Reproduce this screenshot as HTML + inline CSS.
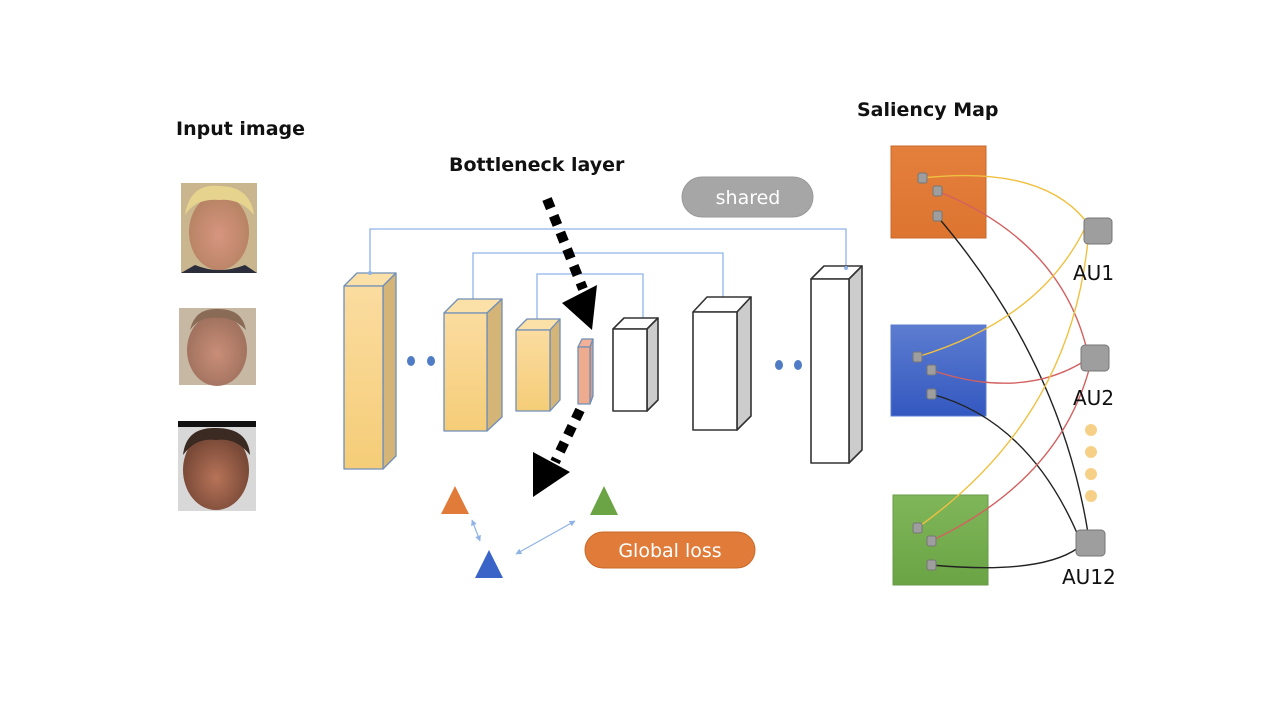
<!DOCTYPE html>
<html><head><meta charset="utf-8"><style>
html,body{margin:0;padding:0;background:#fff;}
svg{display:block;}
text{font-family:"DejaVu Sans","Liberation Sans",sans-serif;}
</style></head><body>
<svg width="1280" height="720" viewBox="0 0 1280 720" xmlns="http://www.w3.org/2000/svg">
<defs>
<linearGradient id="yf" x1="0" y1="0" x2="0" y2="1"><stop offset="0" stop-color="#fbdca0"/><stop offset="1" stop-color="#f5cd78"/></linearGradient>
<linearGradient id="og" x1="0" y1="0" x2="0" y2="1"><stop offset="0" stop-color="#e47f3c"/><stop offset="1" stop-color="#dd7530"/></linearGradient>
<linearGradient id="bg" x1="0" y1="0" x2="0" y2="1"><stop offset="0" stop-color="#5d7dd0"/><stop offset="1" stop-color="#3358c0"/></linearGradient>
<linearGradient id="gg" x1="0" y1="0" x2="0" y2="1"><stop offset="0" stop-color="#7fb65a"/><stop offset="1" stop-color="#6aa444"/></linearGradient>
<radialGradient id="skin1" cx="0.5" cy="0.55" r="0.5"><stop offset="0" stop-color="#d7957f"/><stop offset="1" stop-color="#b98466"/></radialGradient>
<radialGradient id="skin2" cx="0.5" cy="0.55" r="0.5"><stop offset="0" stop-color="#c98e78"/><stop offset="1" stop-color="#a27360"/></radialGradient>
<radialGradient id="skin3" cx="0.5" cy="0.6" r="0.5"><stop offset="0" stop-color="#b77358"/><stop offset="1" stop-color="#7a4a38"/></radialGradient>
<marker id="ah" viewBox="0 0 10 10" refX="9" refY="5" markerWidth="5" markerHeight="5" orient="auto-start-reverse"><path d="M0 0 L10 5 L0 10Z" fill="#8fb3e6"/></marker>
</defs>

<!-- titles -->
<text x="176" y="135" font-size="19" font-weight="bold" fill="#111">Input image</text>
<text x="449" y="171" font-size="19" font-weight="bold" fill="#111">Bottleneck layer</text>
<text x="857" y="116" font-size="19" font-weight="bold" fill="#111">Saliency Map</text>

<!-- faces -->
<rect x="181" y="183" width="76" height="90" fill="#c9b58e"/>
<ellipse cx="219" cy="232" rx="30" ry="38" fill="url(#skin1)"/>
<path d="M185 215 Q190 183 219 186 Q250 186 254 215 Q240 198 219 200 Q196 198 185 215Z" fill="#e6d38e"/>
<path d="M195 265 Q219 275 245 265 L257 273 L181 273Z" fill="#2b2d3a"/>
<rect x="179" y="308" width="77" height="77" fill="#c7b8a3"/>
<ellipse cx="217" cy="350" rx="30" ry="36" fill="url(#skin2)"/>
<path d="M190 330 Q195 308 217 309 Q242 308 246 330 Q232 316 217 318 Q200 316 190 330Z" fill="#8a6b55"/>
<rect x="178" y="421" width="78" height="90" fill="#d8d8d8"/>
<rect x="178" y="421" width="78" height="6" fill="#111"/>
<ellipse cx="216" cy="470" rx="33" ry="40" fill="url(#skin3)"/>
<path d="M183 455 Q186 427 216 428 Q248 428 250 455 Q236 437 216 440 Q196 437 183 455Z" fill="#3a2a22"/>

<!-- skip connections -->
<g stroke="#8fb3e6" stroke-width="1.3" fill="none">
<polyline points="370,273 370,229 846,229 846,268"/>
<polyline points="473,299 473,253 723,253 723,298"/>
<polyline points="537,319 537,274 643,274 643,319"/>
</g>

<!-- encoder boxes -->
<g stroke="#6f8fb8" stroke-width="1.3" stroke-linejoin="round">
<polygon points="344,286 357,273 396,273 383,286" fill="#fbe0a8"/>
<polygon points="383,286 396,273 396,456 383,469" fill="#d4b477"/>
<rect x="344" y="286" width="39" height="183" fill="url(#yf)"/>
<polygon points="444,313 458,299 502,299 487,313" fill="#fbe0a8"/>
<polygon points="487,313 502,299 502,417 487,431" fill="#d4b477"/>
<rect x="444" y="313" width="43" height="118" fill="url(#yf)"/>
<polygon points="516,330 527,319 560,319 550,330" fill="#fbe0a8"/>
<polygon points="550,330 560,319 560,400 550,411" fill="#d4b477"/>
<rect x="516" y="330" width="34" height="81" fill="url(#yf)"/>
<polygon points="578,347 582,339 593,339 590,347" fill="#f2b197"/>
<polygon points="590,347 593,339 593,396 590,404" fill="#d99c84"/>
<rect x="578" y="347" width="12" height="57" fill="#eeab8d"/>
</g>
<!-- decoder boxes -->
<g stroke="#333" stroke-width="1.6" stroke-linejoin="round">
<polygon points="613,329 624,318 658,318 647,329" fill="#fff"/>
<polygon points="647,329 658,318 658,400 647,411" fill="#ccc"/>
<rect x="613" y="329" width="34" height="82" fill="#fff"/>
<polygon points="693,312 707,297 751,297 737,312" fill="#fff"/>
<polygon points="737,312 751,297 751,416 737,430" fill="#ccc"/>
<rect x="693" y="312" width="44" height="118" fill="#fff"/>
<polygon points="811,279 824,266 862,266 849,279" fill="#fff"/>
<polygon points="849,279 862,266 862,450 849,463" fill="#ccc"/>
<rect x="811" y="279" width="38" height="184" fill="#fff"/>
</g>
<g fill="#8fb3e6"><circle cx="370" cy="273" r="2"/><circle cx="846" cy="268" r="2"/></g>

<!-- dots -->
<g fill="#4f7cc4">
<ellipse cx="411" cy="361" rx="4" ry="5"/><ellipse cx="431" cy="361" rx="4" ry="5"/>
<ellipse cx="779" cy="365" rx="4" ry="5"/><ellipse cx="798" cy="365" rx="4" ry="5"/>
</g>

<!-- dashed arrows -->
<g stroke="#000" stroke-width="10" stroke-dasharray="10,8" fill="none">
<line x1="547" y1="199" x2="583" y2="289"/>
<line x1="580" y1="410" x2="555" y2="462"/>
</g>
<polygon points="562,303 597,285 592,330" fill="#000"/>
<polygon points="533,452 570,472 533,497" fill="#000"/>

<!-- shared pill -->
<rect x="682" y="177" width="131" height="40" rx="20" fill="#a6a6a6" stroke="#999"/>
<text x="748" y="204" font-size="19" fill="#fff" text-anchor="middle">shared</text>

<!-- triangles -->
<polygon points="455,486 441,514 469,514" fill="#e07b39"/>
<polygon points="604,486 590,515 618,515" fill="#6aa444"/>
<polygon points="489,550 475,578 503,578" fill="#3a64c8"/>
<g stroke="#8fb3e6" stroke-width="1.2">
<line x1="472" y1="520" x2="480" y2="541" marker-start="url(#ah)" marker-end="url(#ah)"/>
<line x1="516" y1="554" x2="575" y2="521" marker-start="url(#ah)" marker-end="url(#ah)"/>
</g>
<!-- global loss -->
<rect x="585" y="532" width="170" height="36" rx="18" fill="#e07b39" stroke="#c96a2c"/>
<text x="670" y="557" font-size="19" fill="#fff" text-anchor="middle">Global loss</text>

<!-- saliency squares -->
<rect x="891" y="146" width="95" height="92" fill="url(#og)" stroke="#c8692c"/>
<rect x="891" y="325" width="95" height="91" fill="url(#bg)" stroke="#5b7cd0"/>
<rect x="893" y="495" width="95" height="90" fill="url(#gg)" stroke="#6a9a4a"/>

<!-- curves -->
<g fill="none" stroke-width="1.4">
<path d="M922 178 Q1040 165 1085 220" stroke="#f0c040"/>
<path d="M937 191 Q1060 240 1087 350" stroke="#d46060"/>
<path d="M937 216 Q1060 360 1088 533" stroke="#222"/>
<path d="M917 357 Q1040 320 1085 228" stroke="#f0c040"/>
<path d="M931 370 Q1020 400 1083 362" stroke="#d46060"/>
<path d="M931 394 Q1030 420 1080 540" stroke="#222"/>
<path d="M917 528 Q1070 420 1088 240" stroke="#f0c040"/>
<path d="M931 541 Q1060 480 1090 366" stroke="#d46060"/>
<path d="M931 565 Q1040 575 1078 548" stroke="#222"/>
</g>
<g fill="#9e9e9e" stroke="#777" stroke-width="1">
<rect x="918" y="173" width="9" height="10" rx="2"/>
<rect x="933" y="186" width="9" height="10" rx="2"/>
<rect x="933" y="211" width="9" height="10" rx="2"/>
<rect x="913" y="352" width="9" height="10" rx="2"/>
<rect x="927" y="365" width="9" height="10" rx="2"/>
<rect x="927" y="389" width="9" height="10" rx="2"/>
<rect x="913" y="523" width="9" height="10" rx="2"/>
<rect x="927" y="536" width="9" height="10" rx="2"/>
<rect x="927" y="560" width="9" height="10" rx="2"/>
<rect x="1084" y="218" width="28" height="26" rx="4"/>
<rect x="1081" y="345" width="28" height="26" rx="4"/>
<rect x="1076" y="530" width="29" height="26" rx="4"/>
</g>
<g fill="#f7d088">
<circle cx="1091" cy="430" r="6"/><circle cx="1091" cy="452" r="6"/><circle cx="1091" cy="474" r="6"/><circle cx="1091" cy="496" r="6"/>
</g>
<text x="1073" y="280" font-size="20" fill="#111">AU1</text>
<text x="1073" y="405" font-size="20" fill="#111">AU2</text>
<text x="1062" y="584" font-size="20" fill="#111">AU12</text>
</svg>
</body></html>
